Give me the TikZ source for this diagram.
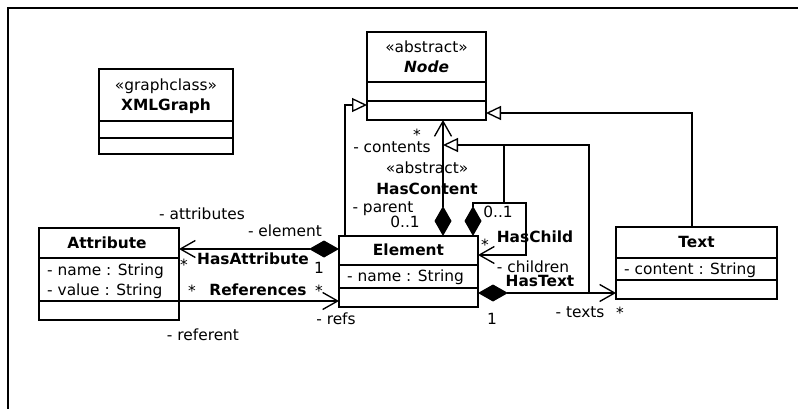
\documentclass[tikz,border=0pt]{standalone}
\usepackage{fontspec}
\setmainfont{DejaVu Sans}
\usetikzlibrary{arrows.meta}
\begin{document}
\begin{tikzpicture}[x=1pt,y=-1pt,
  every node/.style={font=\fontsize{15.4pt}{18pt}\selectfont, inner sep=0pt},
  lbl/.style={text height=9pt, text depth=1pt},
  bold/.style={lbl, font=\fontsize{15.4pt}{18pt}\selectfont\bfseries},
  umlbox/.style={draw, line width=1.7pt, anchor=north west, outer sep=0pt},
  divider/.style={line width=1.5pt},
  conn/.style={line width=1.35pt},
  comp/.style={conn, {Diamond[length=30pt,width=17pt,fill=black]}-{Straight Barb[length=15pt,width=17pt]}},
  assoc/.style={conn, -{Straight Barb[length=15pt,width=17pt]}},
  gen/.style={conn, -{Triangle[length=15pt,width=14pt,fill=white]}},
]
\useasboundingbox (0,0) rectangle (798,409);
\draw[line width=1.4pt] (8,409) -- (8,8) -- (798,8);

% ---- classes ----
\node[umlbox, minimum width=119pt, minimum height=88pt] (nodecls) at (367,32) {};
\draw[divider] ([yshift=-50pt]nodecls.north west) -- ([yshift=-50pt]nodecls.north east);
\draw[divider] ([yshift=-69pt]nodecls.north west) -- ([yshift=-69pt]nodecls.north east);
\node[lbl] (nodestereo) at (426.5,49) {«abstract»};
\node[bold, font=\fontsize{15.4pt}{18pt}\selectfont\bfseries\itshape] (nodetitle) at (426.5,69) {Node};

\node[umlbox, minimum width=134pt, minimum height=85pt] (graph) at (99,69) {};
\draw[divider] ([yshift=-52pt]graph.north west) -- ([yshift=-52pt]graph.north east);
\draw[divider] ([yshift=-69pt]graph.north west) -- ([yshift=-69pt]graph.north east);
\node[lbl] (graphstereo) at (166,87) {«graphclass»};
\node[bold] (graphtitle) at (166,107) {XMLGraph};

\node[umlbox, minimum width=139pt, minimum height=71pt] (elem) at (339,236) {};
\draw[divider] ([yshift=-29pt]elem.north west) -- ([yshift=-29pt]elem.north east);
\draw[divider] ([yshift=-52pt]elem.north west) -- ([yshift=-52pt]elem.north east);
\node[bold] (elemtitle) at (408.5,251) {Element};
\node[lbl, anchor=west] (elemname) at (347,277) {- name : String};

\node[umlbox, minimum width=140pt, minimum height=92pt] (attr) at (39,228) {};
\draw[divider] ([yshift=-30pt]attr.north west) -- ([yshift=-30pt]attr.north east);
\draw[divider] ([yshift=-73pt]attr.north west) -- ([yshift=-73pt]attr.north east);
\node[bold] (attrtitle) at (107,244) {Attribute};
\node[lbl, anchor=west] (attrname) at (47,271) {- name : String};
\node[lbl, anchor=west] (attrvalue) at (47,291) {- value : String};

\node[umlbox, minimum width=161pt, minimum height=72pt] (text) at (616,227) {};
\draw[divider] ([yshift=-31pt]text.north west) -- ([yshift=-31pt]text.north east);
\draw[divider] ([yshift=-53pt]text.north west) -- ([yshift=-53pt]text.north east);
\node[bold] (texttitle) at (696.5,243) {Text};
\node[lbl, anchor=west] (textcontent) at (624,270) {- content : String};

% ---- routing coordinates ----
\coordinate (hcx) at (443,0);
\coordinate (chx) at (473,0);
\coordinate (chcorner) at (526,203);
\coordinate (chy) at (0,255);
\coordinate (cgx) at (504,0);
\coordinate (tgx) at (589,0);
\coordinate (gy) at (0,145);
\coordinate (egx) at (345,0);
\coordinate (egy) at (0,105);
\coordinate (txgx) at (692,0);
\coordinate (txgy) at (0,113);
\coordinate (hay) at (0,249);
\coordinate (rfy) at (0,301);
\coordinate (hty) at (0,293);

% ---- generalizations ----
\draw[gen] (elem.north -| egx) |- (nodecls.west |- egy);
\draw[gen] (text.north -| txgx) |- (nodecls.east |- txgy);
\draw[conn] (chcorner -| cgx) -- (gy -| cgx);
\draw[gen] (hty -| tgx) |- (gy -| hcx);

% ---- associations ----
\draw[comp] (elem.north -| hcx) -- (nodecls.south -| hcx);
\draw[comp] (elem.north -| chx) |- (chcorner) |- (elem.east |- chy);
\draw[comp] (elem.west |- hay) -- (attr.east |- hay);
\draw[assoc] (attr.east |- rfy) -- (elem.west |- rfy);
\draw[comp] (elem.east |- hty) -- (text.west |- hty);

% ---- association labels ----
\node[lbl] (contentsmult) at (417,137) {*};
\node[lbl] (contentsrole) at (392,149) {- contents};
\node[lbl] (hcstereo) at (427,170) {«abstract»};
\node[bold] (hcname) at (427,190) {HasContent};
\node[lbl] (parentrole) at (383,208) {- parent};
\node[lbl] (parentmult) at (405,223) {0..1};

\node[lbl] (chparentmult) at (498,213) {0..1};
\node[lbl] (chchildmult) at (485,246) {*};
\node[bold] (chname) at (535,238) {HasChild};
\node[lbl] (chchildrole) at (533,268) {- children};

\node[bold] (htname) at (540,282) {HasText};
\node[lbl] (htelemmult) at (492,320) {1};
\node[lbl] (httextrole) at (580,313) {- texts};
\node[lbl] (httextmult) at (620,314) {*};

\node[lbl] (haattrrole) at (202,215) {- attributes};
\node[lbl] (haelemrole) at (285,232) {- element};
\node[bold] (haname) at (253,260) {HasAttribute};
\node[lbl] (haattrmult) at (184,266) {*};
\node[lbl] (haelemmult) at (319,269) {1};

\node[lbl] (rfattrmult) at (192,292) {*};
\node[bold] (rfname) at (258,291) {References};
\node[lbl] (rfelemmult) at (319,292) {*};
\node[lbl] (rfelemrole) at (336,320) {- refs};
\node[lbl] (rfattrrole) at (203,336) {- referent};
\end{tikzpicture}
\end{document}
